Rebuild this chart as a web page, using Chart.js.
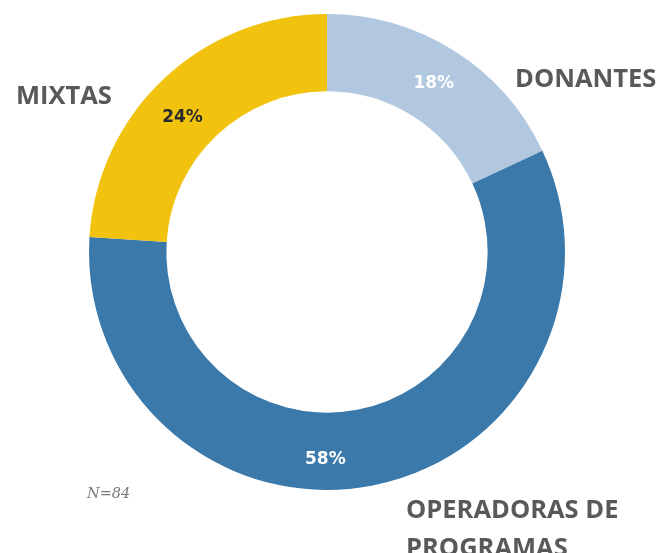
<!DOCTYPE html>
<html>
<head>
<meta charset="utf-8">
<script src="https://cdn.jsdelivr.net/npm/chart.js@4.4.1/dist/chart.umd.min.js"></script>
<style>
  html, body { margin: 0; padding: 0; background: #fff; }
  #wrap { position: relative; width: 669px; height: 553px; overflow: hidden; }
  .cat { position: absolute; font-family: "Open Sans", sans-serif; font-weight: 700; font-size: 25.5px; color: #595959; line-height: 38px; white-space: nowrap; }
  #note { position: absolute; left: 87px; top: 485px; font-family: "DejaVu Serif", serif; font-style: italic; font-size: 14.5px; color: #7a7a7a; }
</style>
</head>
<body>
<div id="wrap">
  <canvas id="donut" width="669" height="553"></canvas>
  <div class="cat" style="left:16px; top:75px;">MIXTAS</div>
  <div class="cat" style="left:515px; top:58px;">DONANTES</div>
  <div class="cat" style="left:406px; top:489px;">OPERADORAS DE<br>PROGRAMAS</div>
  <div id="note">N=84</div>
</div>
<script>
document.addEventListener('DOMContentLoaded', () => {
    const categories = ['DONANTES', 'OPERADORAS DE PROGRAMAS', 'MIXTAS'];
    const shares = [18, 58, 24];
    const percentLabels = ['18%', '58%', '24%'];

    const colors = ['#b1c8e0', '#3b79aa', '#f1c20e'];
    const labelColors = ['#ffffff', '#ffffff', '#2b2b2b'];

    // draws the percentage inside each arc, at the arc's own center point
    const arcLabels = {
        id: 'arcLabels',
        afterDatasetsDraw(chart, args, opts) {
            const ctx = chart.ctx;
            const meta = chart.getDatasetMeta(0);
            ctx.save();
            ctx.font = 'bold 17px "DejaVu Sans", sans-serif';
            ctx.textAlign = 'center';
            ctx.textBaseline = 'middle';
            meta.data.forEach((arc, i) => {
                const pos = arc.tooltipPosition();
                const shift = opts.shifts[i] || { dx: 0, dy: 0 };
                ctx.fillStyle = labelColors[i];
                ctx.fillText(percentLabels[i], pos.x + shift.dx, pos.y + shift.dy);
            });
            ctx.restore();
        }
    };

    new Chart(document.getElementById('donut'), {
        type: 'doughnut',
        data: {
            labels: categories,
            datasets: [{
                data: shares,
                backgroundColor: colors,
                borderWidth: 0,
            }],
        },
        options: {
            responsive: false,
            animation: false,
            cutout: '67.5%',
            layout: { padding: { left: 89, top: 14, right: 104, bottom: 63 } },
            plugins: {
                legend: { display: false },
                tooltip: { enabled: false },
                arcLabels: { shifts: [{ dx: 0, dy: 0 }, { dx: -39, dy: 12 }, { dx: -8, dy: 11 }] },
            },
        },
        plugins: [arcLabels],
    });
});
</script>
</body>
</html>
